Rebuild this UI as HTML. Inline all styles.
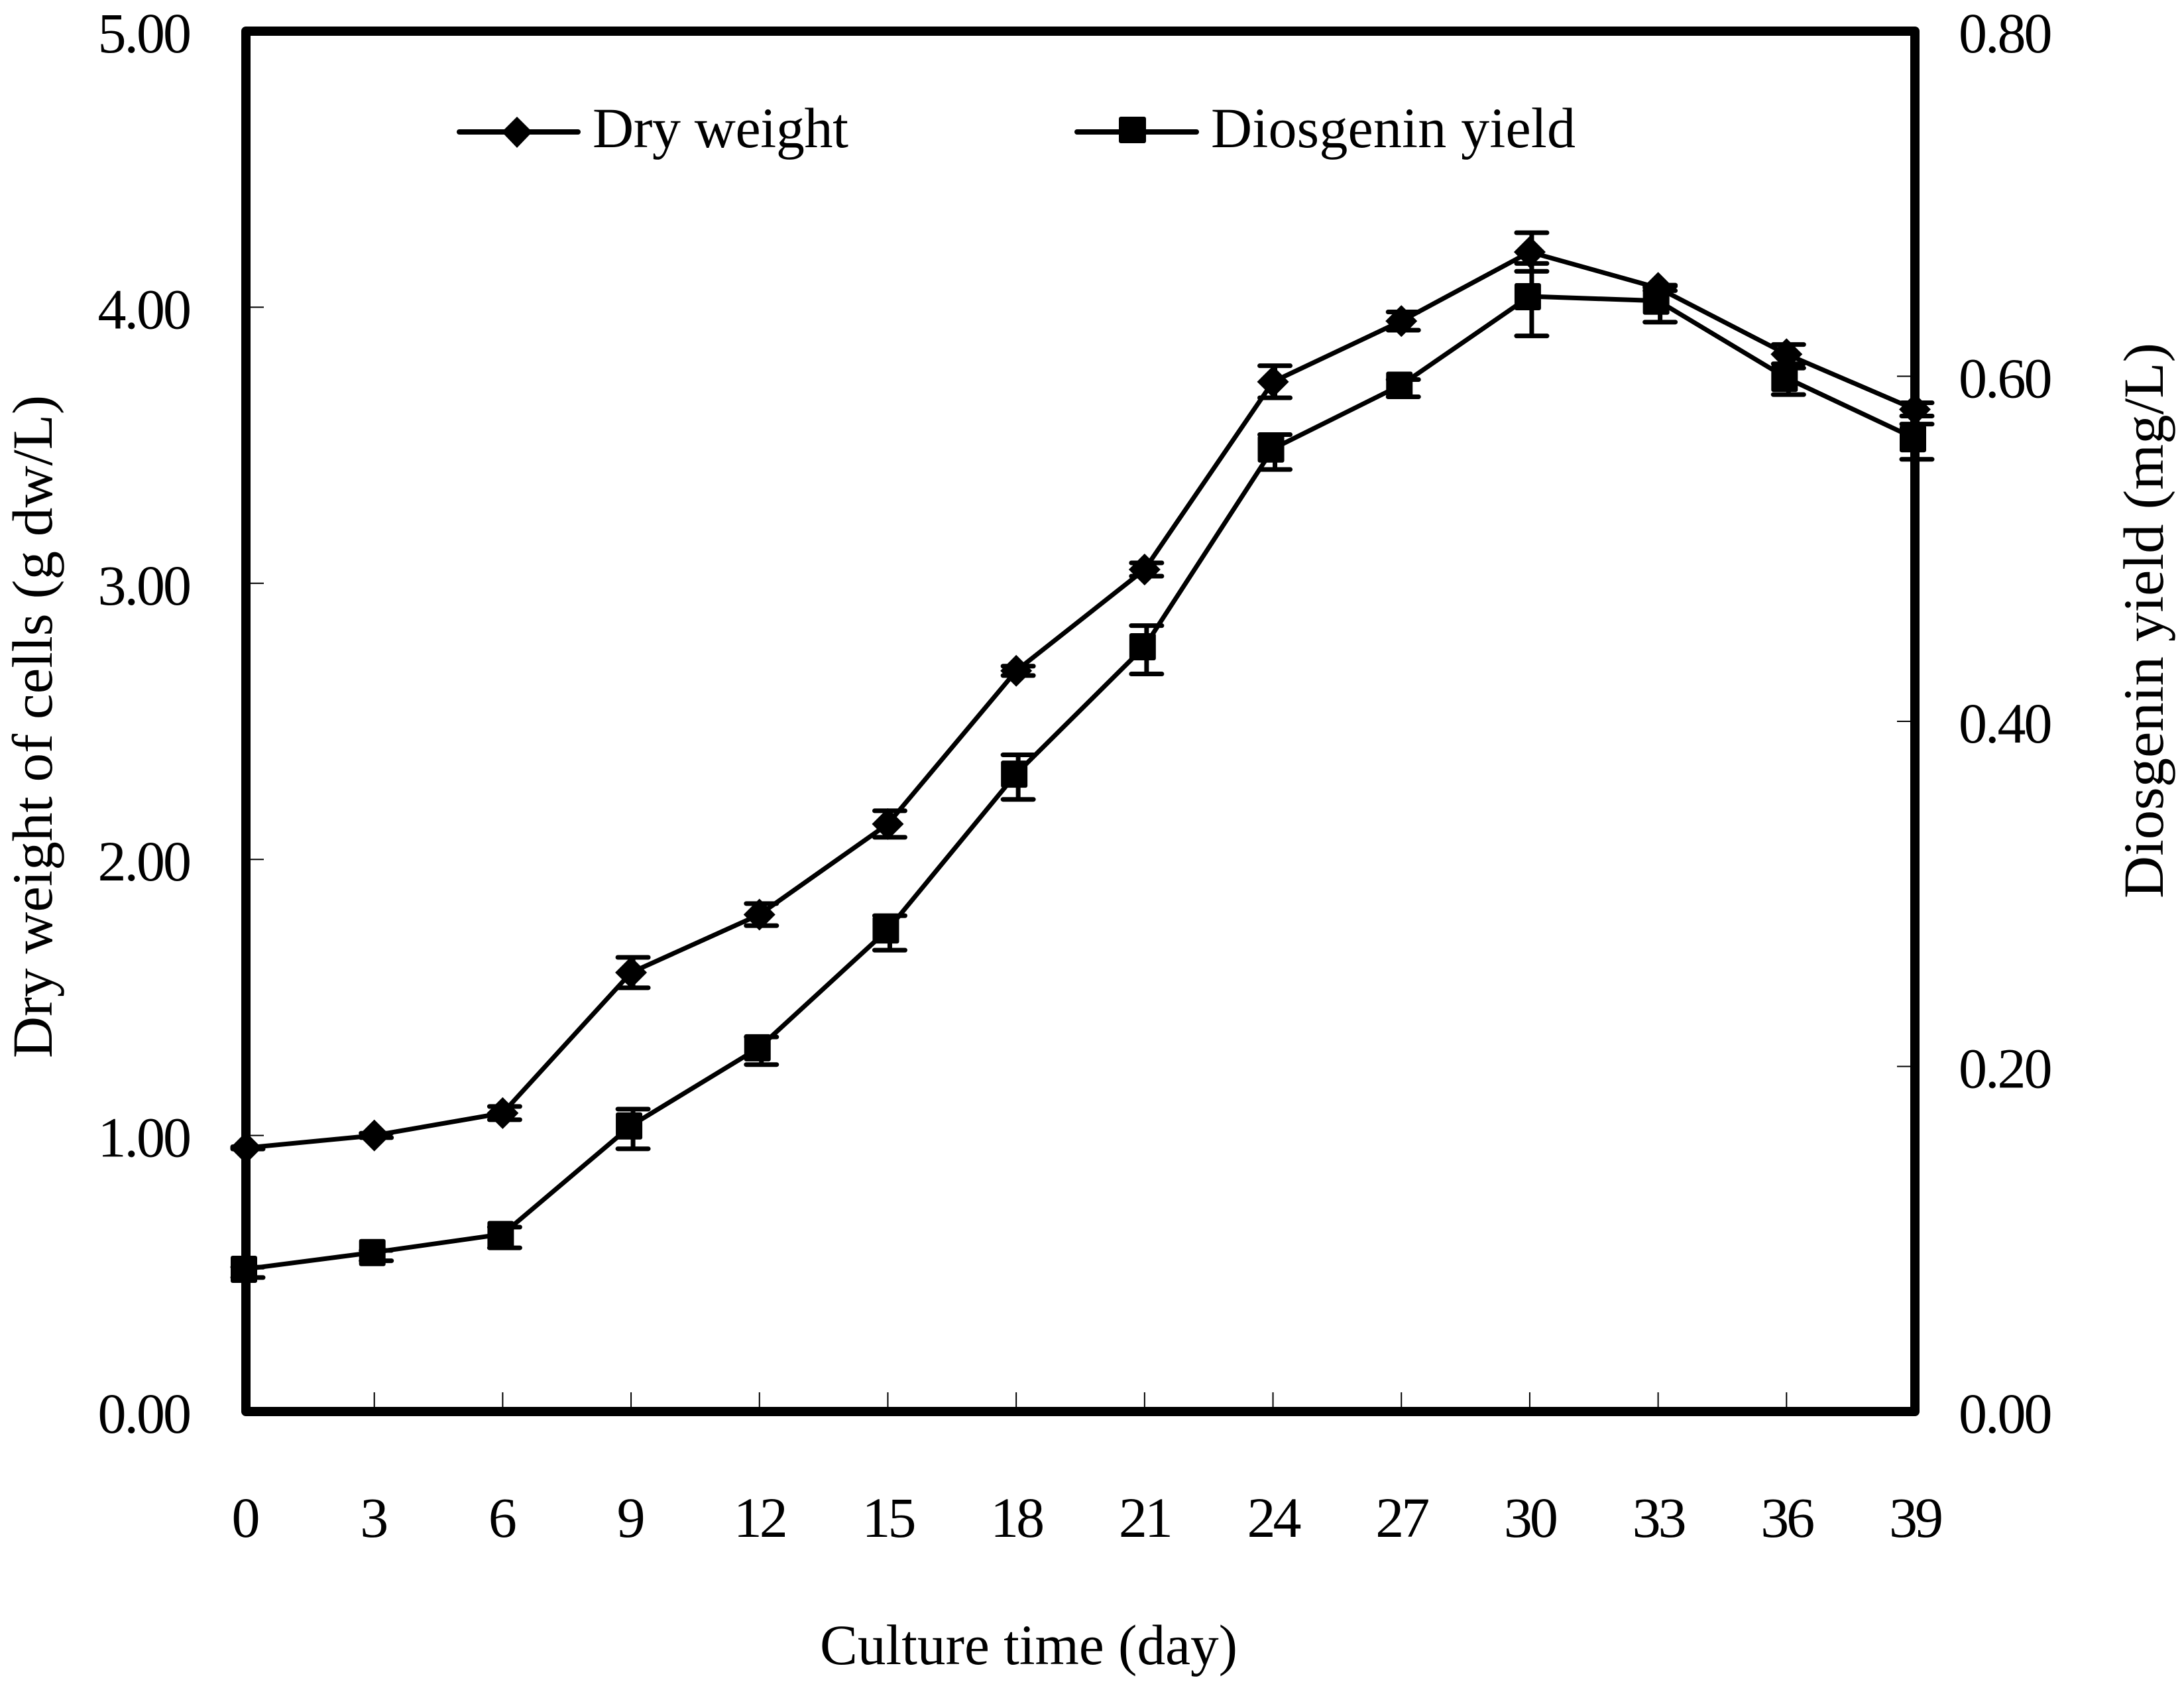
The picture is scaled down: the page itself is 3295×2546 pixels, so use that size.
<!DOCTYPE html>
<html>
<head>
<meta charset="utf-8">
<title>Dry weight and diosgenin yield</title>
<style>
html,body{margin:0;padding:0;background:#fff;width:3295px;height:2546px;overflow:hidden}
svg{display:block}
text{font-family:"Liberation Serif",serif;font-size:86px;fill:#000}
</style>
</head>
<body>
<svg id="chart" xmlns="http://www.w3.org/2000/svg" width="3295" height="2546" viewBox="0 0 3295 2546">
  <rect x="0" y="0" width="3295" height="2546" fill="#fff"/>
  <rect x="371" y="47" width="2518" height="2082" fill="none" stroke="#000" stroke-width="14" stroke-linejoin="round"/>
  <g id="ticks"></g>
  <g id="labels"></g>
  <g id="marks"></g>

  <text x="1237" y="2510" textLength="630" lengthAdjust="spacingAndGlyphs">Culture time (day)</text>
  <text transform="translate(78 1596) rotate(-90)" x="0" y="0" textLength="1000" lengthAdjust="spacingAndGlyphs">Dry weight of cells (g dw/L)</text>
  <text transform="translate(3263 1355) rotate(-90)" x="0" y="0" textLength="838" lengthAdjust="spacingAndGlyphs">Diosgenin yield (mg/L)</text>

  <g>
    <g>
      <line x1="693" y1="199" x2="872" y2="199" stroke="#000" stroke-width="8" stroke-linecap="round"/>
      <polygon points="780,176 803,199 780,223 757,199" fill="#000"/>
      <text x="894" y="222" textLength="386" lengthAdjust="spacing">Dry weight</text>
    </g>
    <g>
      <line x1="1625" y1="199" x2="1805" y2="199" stroke="#000" stroke-width="8" stroke-linecap="round"/>
      <rect x="1688" y="176" width="41" height="40" rx="3" fill="#000"/>
      <text x="1827" y="222" textLength="550" lengthAdjust="spacing">Diosgenin yield</text>
    </g>
  </g>
</svg>
<script>
var days = [0, 3, 6, 9, 12, 15, 18, 21, 24, 27, 30, 33, 36, 39];
var dryWeight = [0.955, 1.0, 1.081, 1.59, 1.80, 2.128, 2.683, 3.05, 3.73, 3.95, 4.20, 4.07, 3.83, 3.63];
var dryWeightErr = [0.004, 0.008, 0.024, 0.055, 0.04, 0.048, 0.017, 0.024, 0.058, 0.033, 0.07, 0.01, 0.035, 0.024];
var diosgeninYield = [0.0826, 0.0923, 0.1028, 0.1657, 0.211, 0.2793, 0.3696, 0.4434, 0.558, 0.595, 0.6463, 0.6437, 0.599, 0.564];
var diosgeninErr = [0.003, 0.003, 0.006, 0.0115, 0.008, 0.01, 0.0129, 0.014, 0.0101, 0.005, 0.021, 0.0104, 0.0077, 0.0102];
var leftTickValues = [0, 1, 2, 3, 4, 5];
var leftTickLabels = ["0.00", "1.00", "2.00", "3.00", "4.00", "5.00"];
var rightTickValues = [0, 0.2, 0.4, 0.6, 0.8];
var rightTickLabels = ["0.00", "0.20", "0.40", "0.60", "0.80"];

var NS = "http://www.w3.org/2000/svg";
function xScale(d) { return 371 + (d / 39) * 2518; }
function yLeft(v) { return 2129 - (v / 5) * 2082; }
function yRight(v) { return 2129 - (v / 0.8) * 2082; }
function make(tag, parent, attrs, text) {
  var el = document.createElementNS(NS, tag);
  for (var k in attrs) { el.setAttribute(k, attrs[k]); }
  if (text !== undefined) { el.textContent = text; }
  parent.appendChild(el);
  return el;
}
var tickGroup = document.getElementById("ticks");
var labelGroup = document.getElementById("labels");
var markGroup = document.getElementById("marks");

days.forEach(function (d) {
  var x = xScale(d);
  if (d > 0 && d < 39) {
    var t = make("line", tickGroup, {x1: x, y1: 2100, x2: x, y2: 2122, stroke: "#000", "stroke-width": 2});
    
    
  }
  var s = String(d);
  var l = make("text", labelGroup, {x: x, y: 2318, "text-anchor": "middle", "letter-spacing": s.length > 1 ? -4 : 0}, s);
  
  
});

leftTickValues.forEach(function (v, i) {
  var y = yLeft(v);
  if (i > 0 && i < leftTickValues.length - 1) {
    var t = make("line", tickGroup, {x1: 378, y1: y, x2: 398, y2: y, stroke: "#000", "stroke-width": 2});
    
    
  }
  var l = make("text", labelGroup, {x: 286, y: y + 32, "text-anchor": "end", "letter-spacing": -3}, leftTickLabels[i]);
  
  
});

rightTickValues.forEach(function (v, i) {
  var y = yRight(v);
  if (i > 0 && i < rightTickValues.length - 1) {
    var t = make("line", tickGroup, {x1: 2862, y1: y, x2: 2882, y2: y, stroke: "#000", "stroke-width": 2});
    
    
  }
  var l = make("text", labelGroup, {x: 2955, y: y + 32, "text-anchor": "start", "letter-spacing": -3}, rightTickLabels[i]);
  
  
});

function drawSeries(key, values, errs, yFn, marker) {
  var errShift = marker === "diamond" ? 0 : 5;
  var pts = values.map(function (v, i) { return xScale(days[i]) + "," + yFn(v); }).join(" ");
  var line = make("polyline", markGroup, {points: pts, fill: "none", stroke: "#000", "stroke-width": 7, "stroke-linejoin": "round"});
  
  
  values.forEach(function (v, i) {
    var x = xScale(days[i]) + 3;
    var yTop = yFn(v + errs[i]) + errShift;
    var yBot = yFn(v - errs[i]) + errShift;
    var bar = make("path", markGroup, {
      d: "M" + x + " " + yTop + "V" + yBot + "M" + (x - 23) + " " + yTop + "H" + (x + 23) + "M" + (x - 23) + " " + yBot + "H" + (x + 23),
      fill: "none", stroke: "#000", "stroke-width": 7, "stroke-linecap": "round"
    });
    
    
  });
  values.forEach(function (v, i) {
    var x = xScale(days[i]);
    var y = yFn(v);
    var m;
    if (marker === "diamond") {
      m = make("polygon", markGroup, {points: x + "," + (y - 24) + " " + (x + 24) + "," + y + " " + x + "," + (y + 24) + " " + (x - 24) + "," + y, fill: "#000"});
    } else {
      m = make("rect", markGroup, {x: x - 23, y: y - 20, width: 40, height: 41, rx: 3, fill: "#000"});
    }
    
    
  });
}
drawSeries("dry-weight", dryWeight, dryWeightErr, yLeft, "diamond");
drawSeries("diosgenin-yield", diosgeninYield, diosgeninErr, yRight, "square");
</script>
</body>
</html>
